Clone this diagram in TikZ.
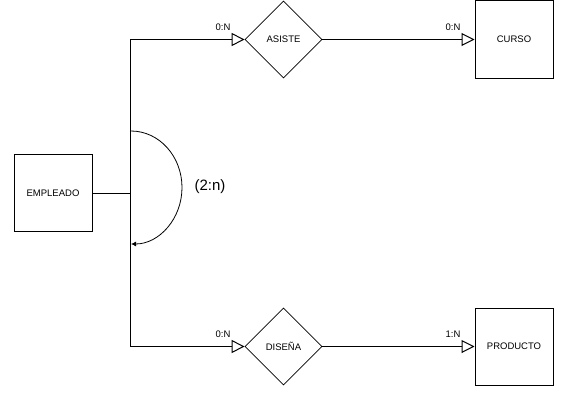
\documentclass[tikz,border=0pt]{standalone}
\usepackage{fontspec}
\setmainfont{Liberation Sans}
\usepackage{tikz}
\usetikzlibrary{arrows.meta, positioning, shapes.geometric}

\begin{document}
\begin{tikzpicture}[x=1pt, y=-1pt,
    entity/.style={rectangle, draw=black, line width=1pt, minimum width=78pt, minimum height=77pt, font=\fontsize{9.5}{11}\selectfont},
    relation/.style={diamond, draw=black, line width=0.8pt, minimum width=77pt, minimum height=77pt, inner sep=0pt, font=\fontsize{9.5}{11}\selectfont},
    card/.style={-{Triangle[open, length=13pt, width=13pt]}, line width=1pt},
    line/.style={line width=1pt},
    cardlabel/.style={font=\fontsize{9.5}{11}\selectfont, inner sep=0pt}
]
\useasboundingbox (0,0) rectangle (569,404);

% Entities
\node[entity] (empleado) at (53,193) {EMPLEADO};
\node[entity] (curso) at (514,39.5) {CURSO};
\node[entity] (producto) at (514,346.5) {PRODUCTO};

% Relations
\node[relation] (asiste) at (283.5,39.5) {ASISTE};
\node[relation] (disena) at (283.5,346.5) {DISEÑA};

% Junction and arc
\coordinate (junction) at (130,193);
\coordinate (arcstart) at (131,131);

% Connectors
\draw[line] (empleado.east) -- (junction);
\draw[card] (junction) |- (asiste.west);
\draw[card] (junction) |- (disena.west);
\draw[card] (asiste.east) -- (curso.west);
\draw[card] (disena.east) -- (producto.west);

% Exclusive arc
\draw[line width=0.8pt, -{Latex[length=5pt, width=5pt]}] (arcstart) arc[start angle=-90, end angle=90, x radius=51, y radius=56.5];
\node[font=\fontsize{15}{18}\selectfont] (arclabel) at (210,187) {(2:n)};

% Cardinalities
\node[cardlabel] (c1) at (223,27) {0:N};
\node[cardlabel] (c2) at (453,27) {0:N};
\node[cardlabel] (c3) at (223,334) {0:N};
\node[cardlabel] (c4) at (453,334) {1:N};

\end{tikzpicture}
\end{document}
